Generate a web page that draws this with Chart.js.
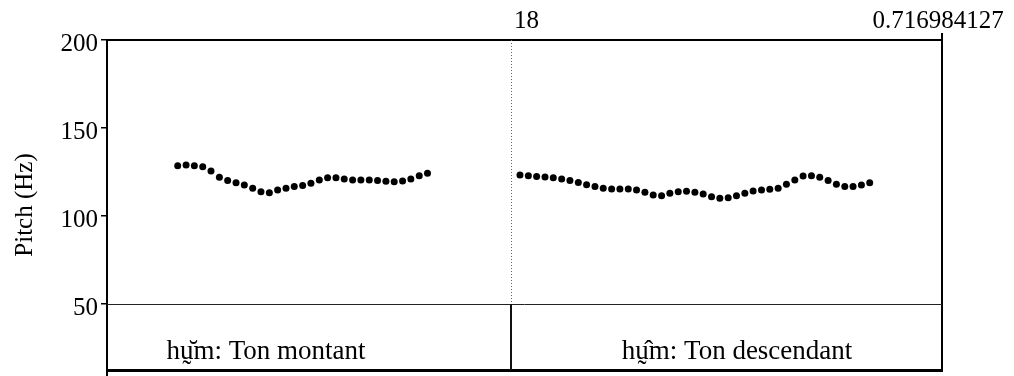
<!DOCTYPE html>
<html><head><meta charset="utf-8">
<script src="https://cdn.jsdelivr.net/npm/chart.js@4/dist/chart.umd.min.js"></script>
<style>html,body{margin:0;padding:0;background:#fff;} canvas{display:block;}</style>
</head><body>
<canvas id="c" width="1014" height="376"></canvas>
<script>
// ---- data (time in s, pitch in Hz) ----
const risingTimes = [0.0607,0.0679,0.0750,0.0822,0.0893,0.0965,0.1036,0.1108,0.1179,0.1251,0.1322,0.1394,0.1465,0.1537,0.1608,0.1680,0.1751,0.1823,0.1894,0.1966,0.2037,0.2109,0.2180,0.2252,0.2323,0.2395,0.2466,0.2538,0.2609,0.2681,0.2752];
const risingPitch = [128.6,129.0,128.6,128.0,125.6,122.0,120.1,118.9,117.6,115.7,113.8,113.2,114.8,115.7,116.7,117.4,118.6,120.5,121.8,121.8,121.0,120.5,120.5,120.5,120.1,119.7,119.5,119.9,121.0,122.9,124.3];
const fallingTimes = [0.3546,0.3618,0.3689,0.3761,0.3832,0.3904,0.3975,0.4047,0.4118,0.4190,0.4261,0.4333,0.4404,0.4476,0.4547,0.4619,0.4690,0.4762,0.4833,0.4905,0.4976,0.5048,0.5119,0.5191,0.5262,0.5334,0.5405,0.5477,0.5548,0.5620,0.5691,0.5763,0.5834,0.5906,0.5977,0.6049,0.6120,0.6192,0.6263,0.6335,0.6406,0.6478,0.6549];
const fallingPitch = [123.3,122.9,122.5,122.2,121.8,121.0,120.1,119.1,117.8,116.7,115.7,115.3,115.3,115.3,114.8,113.5,111.9,111.5,112.9,113.8,114.0,113.5,112.5,111.0,110.1,110.4,111.5,112.9,114.2,114.8,115.2,115.7,118.0,120.5,122.7,122.9,122.0,120.1,118.0,116.7,116.7,117.6,118.9];
const yTicks = [50, 100, 150, 200];
const yRange = [12.5, 200];
const xRange = [0, 0.716984127];
const tierFloor = 50;
const boundaryTime = 0.3469;
const tierLabels = ["hu\u0330\u0306m: Ton montant", "hu\u0330\u0302m: Ton descendant"];
const tierLabelTimes = [0.1365, 0.5410];
const topLabels = ["18", "0.716984127"];
const axisTitle = "Pitch (Hz)";

const FONT = "'Liberation Serif', 'Times New Roman', serif";
const FS = 25;
const FS_TIER = 27;

const pts = (ts, vs) => ts.map((t, i) => ({x: t, y: vs[i]}));

function hline(ctx, x1, x2, y, w) {
  const o = (Math.round(w) % 2) ? 0.5 : 0;
  y = Math.round(y) + o;
  ctx.lineWidth = w; ctx.beginPath(); ctx.moveTo(x1, y); ctx.lineTo(x2, y); ctx.stroke();
}
function vline(ctx, x, y1, y2, w) {
  const o = (Math.round(w) % 2) ? 0.5 : 0;
  x = Math.round(x) + o;
  ctx.lineWidth = w; ctx.beginPath(); ctx.moveTo(x, y1); ctx.lineTo(x, y2); ctx.stroke();
}

const praatFrame = {
  id: 'praatFrame',
  afterDraw(chart) {
    const {ctx, chartArea: a, scales: {x, y}} = chart;
    const yF = Math.round(y.getPixelForValue(tierFloor));
    const xb = Math.round(x.getPixelForValue(boundaryTime));
    ctx.save();
    ctx.strokeStyle = '#000';
    hline(ctx, a.left - 1, a.right + 1, a.top, 2);
    vline(ctx, a.right, a.top - 7, a.bottom, 2);
    vline(ctx, a.left, a.bottom, chart.height, 2);
    hline(ctx, a.left - 1, a.right + 1, a.bottom, 3);
    ctx.strokeStyle = '#222';
    hline(ctx, a.left, a.right, yF, 1);
    ctx.strokeStyle = '#111';
    vline(ctx, xb, yF, a.bottom, 2);
    ctx.strokeStyle = '#666';
    ctx.setLineDash([1, 2]);
    vline(ctx, xb, a.top, yF, 1);
    ctx.setLineDash([]);

    ctx.fillStyle = '#000';
    ctx.textBaseline = 'alphabetic';
    ctx.font = FS_TIER + 'px ' + FONT;
    ctx.textAlign = 'center';
    tierLabels.forEach((t, i) => ctx.fillText(t, x.getPixelForValue(tierLabelTimes[i]), 359));
    ctx.font = FS + 'px ' + FONT;
    ctx.textAlign = 'left';
    ctx.fillText(topLabels[0], xb + 3, 28);
    ctx.textAlign = 'center';
    ctx.fillText(topLabels[1], x.getPixelForValue(xRange[1]) - 4, 28);
    ctx.restore();
  }
};

new Chart(document.getElementById('c'), {
  type: 'scatter',
  data: {
    datasets: [
      {data: pts(risingTimes, risingPitch), backgroundColor: '#000', borderWidth: 0, pointRadius: 3.5, showLine: false},
      {data: pts(fallingTimes, fallingPitch), backgroundColor: '#000', borderWidth: 0, pointRadius: 3.5, showLine: false}
    ]
  },
  options: {
    responsive: false,
    animation: false,
    events: [],
    layout: {padding: {top: 40, right: 72, bottom: 6, left: 0}},
    plugins: {legend: {display: false}, tooltip: {enabled: false}},
    scales: {
      x: {type: 'linear', min: xRange[0], max: xRange[1], display: false},
      y: {
        type: 'linear', min: yRange[0], max: yRange[1],
        afterBuildTicks(s) { s.ticks = yTicks.map(v => ({value: v})); },
        afterFit(s) { s.width = 107; s.paddingTop = 0; s.paddingBottom = 0; },
        grid: {drawOnChartArea: false, drawTicks: true, tickLength: 6, color: '#000', lineWidth: 1.5},
        border: {display: true, color: '#000', width: 2},
        ticks: {color: '#000', padding: 3, labelOffset: 4, font: {family: FONT, size: FS}},
        title: {display: true, text: axisTitle, color: '#000', padding: {top: 10, bottom: 0}, font: {family: FONT, size: FS}}
      }
    }
  },
  plugins: [praatFrame]
});
</script>
</body></html>
